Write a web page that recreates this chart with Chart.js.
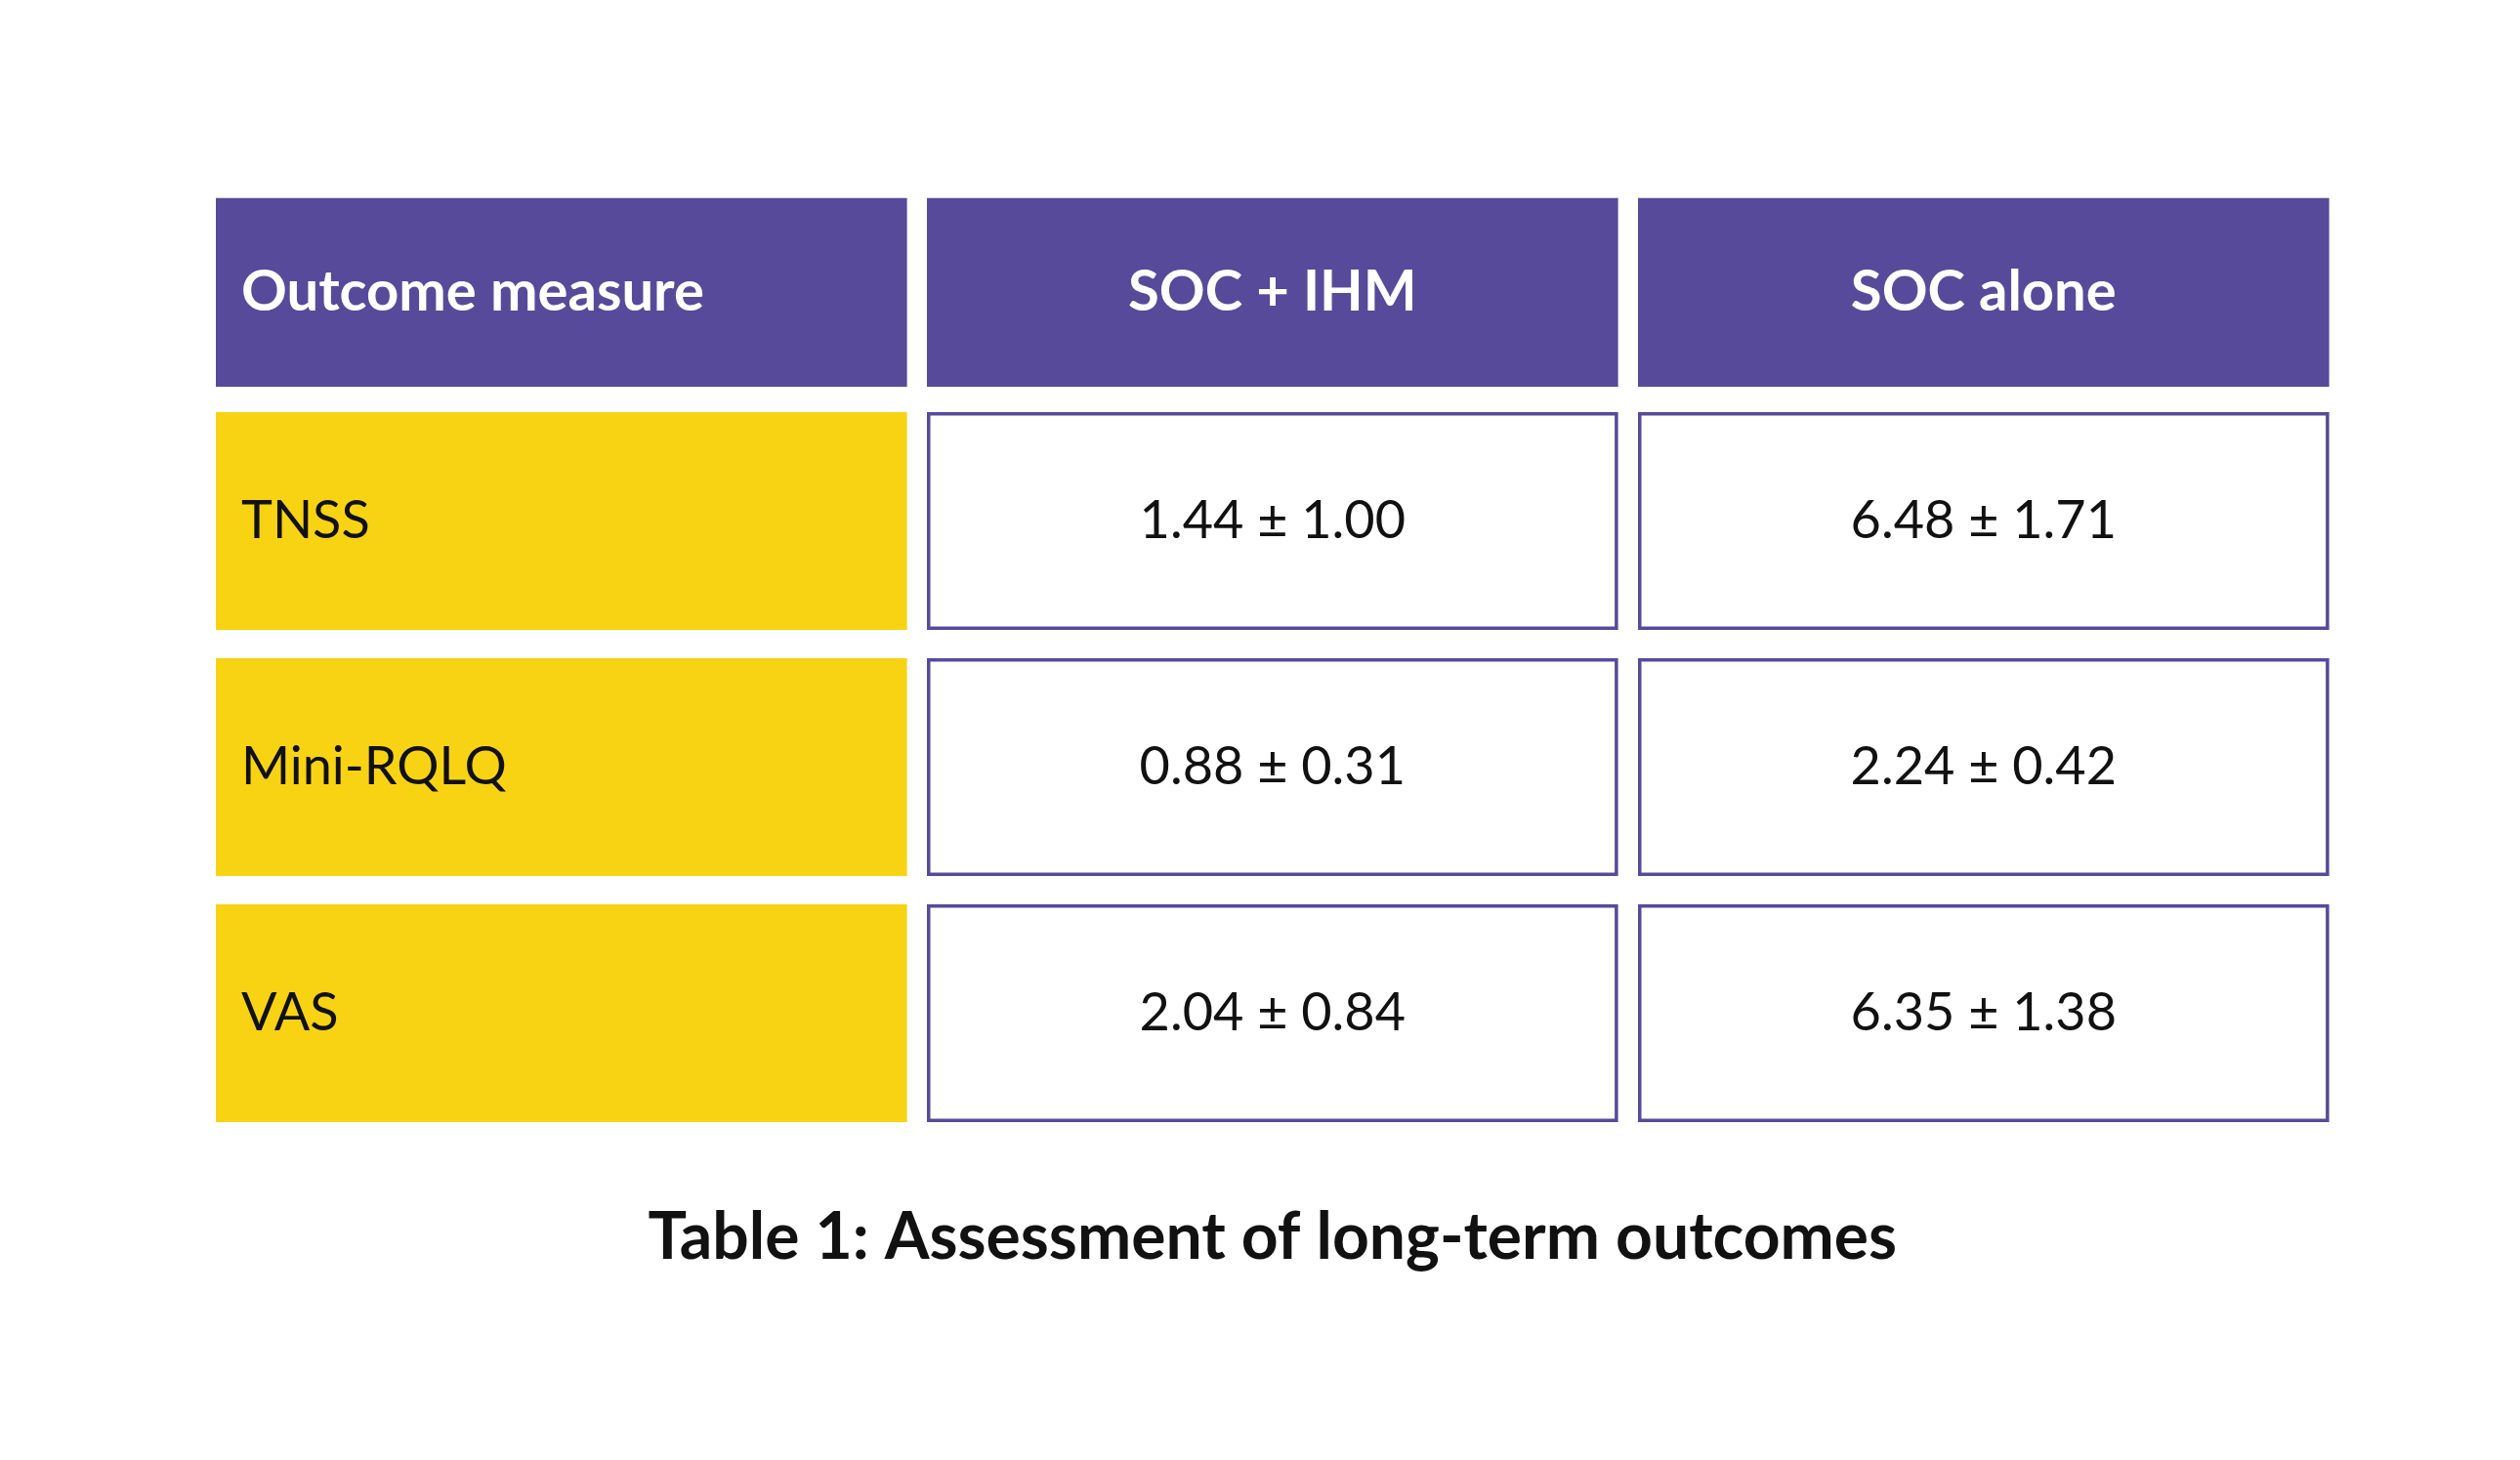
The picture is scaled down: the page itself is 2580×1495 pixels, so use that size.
<!DOCTYPE html>
<html><head><meta charset="utf-8">
<script src="https://cdn.jsdelivr.net/npm/chart.js@4"></script>
<style>html,body{margin:0;padding:0;background:#fff}canvas{display:block}</style>
</head><body>
<canvas id="c" width="2580" height="1495"></canvas>
<script>
const columns = ["Outcome measure", "SOC + IHM", "SOC alone"];
const measures = ["TNSS", "Mini-RQLQ", "VAS"];
const socIhm = ["1.44 ± 1.00", "0.88 ± 0.31", "2.04 ± 0.84"];
const socAlone = ["6.48 ± 1.71", "2.24 ± 0.42", "6.35 ± 1.38"];
const caption = "Table 1: Assessment of long-term outcomes";

const PURPLE = "#574a9a", YELLOW = "#f8d313", FONT = "Lato, 'Open Sans', sans-serif";

const tablePlugin = {
  id: "table",
  afterDraw(chart) {
    const ctx = chart.ctx, xs = chart.scales.x, ys = chart.scales.y;
    const rows = [columns].concat(measures.map((m, i) => [m, socIhm[i], socAlone[i]]));
    rows.forEach((row, r) => {
      const y0 = ys.getPixelForValue(r + (r === 0 ? 0.13 : 0));
      const y1 = ys.getPixelForValue(r + (r === 0 ? 0.897 : 0.885));
      row.forEach((txt, c) => {
        const x0 = xs.getPixelForValue(c), x1 = xs.getPixelForValue(c + 0.972);
        ctx.save();
        if (r === 0) { ctx.fillStyle = PURPLE; ctx.fillRect(x0, y0, x1 - x0, y1 - y0); }
        else if (c === 0) { ctx.fillStyle = YELLOW; ctx.fillRect(x0, y0, x1 - x0, y1 - y0); }
        else { ctx.fillStyle = "#fff"; ctx.fillRect(x0, y0, x1 - x0, y1 - y0);
          ctx.strokeStyle = PURPLE; ctx.lineWidth = 3.5; ctx.strokeRect(x0 + 1.75, y0 + 1.75, x1 - x0 - 3.5, y1 - y0 - 3.5); }
        ctx.fillStyle = r === 0 ? "#fff" : "#111";
        ctx.font = (r === 0 ? "bold 58px " : "54px ") + FONT;
        ctx.textBaseline = "middle";
        const ym = (y0 + y1) / 2;
        if (c === 0) { ctx.textAlign = "left"; ctx.fillText(txt, x0 + 26, ym); }
        else { ctx.textAlign = "center"; ctx.fillText(txt, (x0 + x1) / 2, ym); }
        ctx.restore();
      });
    });
    ctx.save();
    ctx.fillStyle = "#111"; ctx.font = "bold 66px " + FONT;
    ctx.textAlign = "center"; ctx.textBaseline = "middle";
    ctx.fillText(caption, (xs.getPixelForValue(0) + xs.getPixelForValue(2.972)) / 2, 1268);
    ctx.restore();
  }
};

new Chart(document.getElementById("c"), {
  type: "scatter",
  data: { datasets: [{ data: [] }] },
  options: {
    responsive: false, devicePixelRatio: 1, animation: false,
    layout: { padding: { left: 221, right: 2580 - 2405, top: 170, bottom: 1495 - 1178 } },
    plugins: { legend: { display: false }, tooltip: { enabled: false } },
    scales: {
      x: { type: "linear", min: 0, max: 3, display: false },
      y: { type: "linear", min: 0, max: 4, reverse: true, display: false }
    }
  },
  plugins: [tablePlugin]
});
</script>
</body></html>
